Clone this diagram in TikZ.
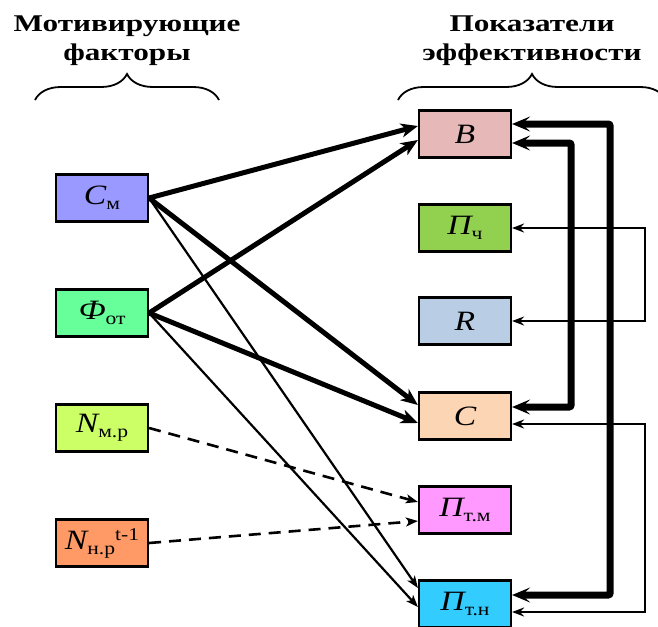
\documentclass[tikz,border=0pt]{standalone}
\usepackage{fontspec}
\setmainfont{Liberation Serif}
\usepackage{graphicx}
\usetikzlibrary{arrows.meta,calc,decorations.pathreplacing}
\definecolor{cmC}{HTML}{9999FF}
\definecolor{fotC}{HTML}{66FF99}
\definecolor{nmrC}{HTML}{CCFF66}
\definecolor{nnrC}{HTML}{FF9966}
\definecolor{bC}{HTML}{E6B9B8}
\definecolor{pchC}{HTML}{92D050}
\definecolor{rC}{HTML}{B9CDE5}
\definecolor{cC}{HTML}{FCD5B5}
\definecolor{ptmC}{HTML}{FF99FF}
\definecolor{ptnC}{HTML}{33CCFF}
\newcommand\hstretch[1]{\scalebox{1.3}[1]{#1}}
\newcommand\bstretch[1]{\scalebox{1.2}[1]{#1}}
\newcommand\msym[2]{\bstretch{\fontsize{28}{28}\selectfont\itshape #1\upshape\fontsize{18}{18}\selectfont\raisebox{-5pt}{#2}}}
\begin{document}
\begin{tikzpicture}[x=1pt,y=-1pt,
  box/.style={draw=black,line width=2.2pt,minimum width=92pt,minimum height=47pt,inner sep=0pt},
  heading/.style={align=center,font=\fontsize{24}{29}\selectfont\bfseries,inner sep=0pt},
  heavy/.style={line width=5pt,-{Stealth[length=17pt,width=14pt,inset=5pt]}},
  light/.style={line width=2.2pt,-{Stealth[length=12pt,width=9pt,inset=3pt]}},
  dashy/.style={line width=2.6pt,dash pattern=on 12pt off 8pt,-{Stealth[length=12pt,width=9pt,inset=3pt]}},
  fbheavy/.style={line width=7pt,rounded corners=2pt,{Stealth[length=18pt,width=15pt,inset=8pt]}-{Stealth[length=18pt,width=15pt,inset=8pt]}},
  fblight/.style={line width=2.2pt,{Stealth[length=12pt,width=9pt,inset=4pt]}-{Stealth[length=12pt,width=9pt,inset=4pt]}},
  bracestyle/.style={line width=1.8pt,decorate,decoration={brace,amplitude=26pt}}]
\useasboundingbox (0,0) rectangle (658,626);
% headings
\node[heading] (hl) at (127,41) {\hstretch{Мотивирующие}\\\hstretch{факторы}};
\node[heading] (hr) at (532,41) {\hstretch{Показатели}\\\hstretch{эффективности}};
\draw[bracestyle] (35,100) -- (219,100);
\draw[bracestyle] (398,100) -- (666,100);
% left boxes
\node[box,fill=cmC]  (cm)  at (102,198) {\msym{C}{м}};
\node[box,fill=fotC] (fot) at (102,313) {\msym{Ф}{от}};
\node[box,fill=nmrC] (nmr) at (102,428) {\msym{N}{м.р}};
\node[box,fill=nnrC] (nnr) at (102,543) {\bstretch{\fontsize{28}{28}\selectfont\itshape N\upshape\fontsize{18}{18}\selectfont\raisebox{-5pt}{н.р}\raisebox{9pt}{t-1}}};
% right boxes
\node[box,fill=bC]   (b)   at (465,134) {\bstretch{\fontsize{28}{28}\selectfont\itshape B}};
\node[box,fill=pchC] (pch) at (465,228) {\msym{П}{ч}};
\node[box,fill=rC]   (r)   at (465,321) {\bstretch{\fontsize{28}{28}\selectfont\itshape R}};
\node[box,fill=cC]   (c)   at (465,416) {\bstretch{\fontsize{28}{28}\selectfont\itshape C}};
\node[box,fill=ptmC] (ptm) at (465,510) {\msym{П}{т.м}};
\node[box,fill=ptnC] (ptn) at (465,604) {\msym{П}{т.н}};
% connectors from factors
\draw[heavy] (cm.east) -- ($(b.west)+(0,-8)$);
\draw[heavy] (fot.east) -- ($(b.west)+(0,6)$);
\draw[heavy] (cm.east) -- ($(c.west)+(0,-11)$);
\draw[heavy] (fot.east) -- ($(c.west)+(0,7)$);
\draw[light] (cm.east) -- ($(ptn.west)+(0,-16)$);
\draw[light] (fot.east) -- ($(ptn.west)+(0,3)$);
\draw[dashy] (nmr.east) -- ($(ptm.west)+(0,-8)$);
\draw[dashy] (nnr.east) -- ($(ptm.west)+(0,11)$);
% feedback
\draw[fbheavy] ($(ptn.east)+(0,-9)$) -- ++(98,0) |- ($(b.east)+(0,-10)$);
\draw[fbheavy] ($(c.east)+(0,-9)$) -- ++(59,0) |- ($(b.east)+(0,9)$);
\draw[fblight] (pch.east) -- ++(133,0) |- (r.east);
\draw[fblight] ($(c.east)+(0,8)$) -- ++(133,0) |- ($(ptn.east)+(0,8)$);
\end{tikzpicture}
\end{document}
